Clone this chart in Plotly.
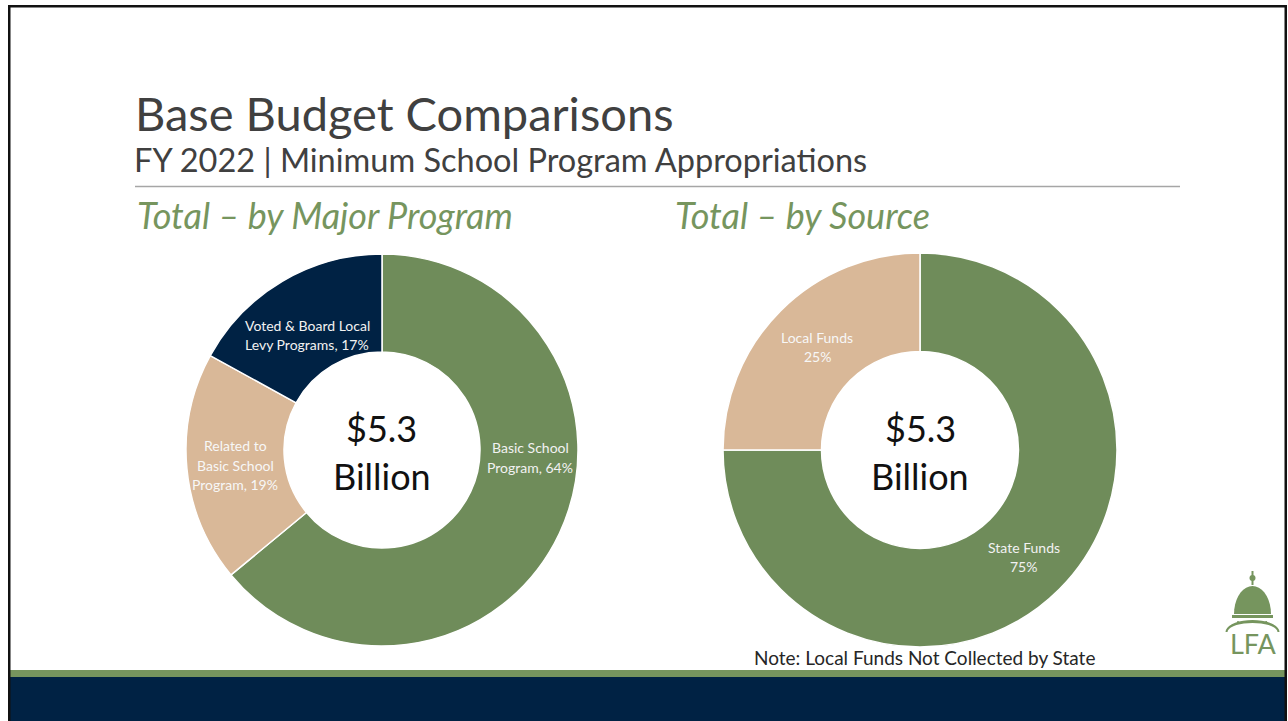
import math
import plotly.graph_objects as go

W, H = 1288, 721

program_labels = ["Basic School Program", "Related to Basic School Program", "Voted & Board Local Levy Programs"]
program_values = [64, 19, 17]
program_colors = ["#6F8C5A", "#D9B898", "#002244"]

source_labels = ["State Funds", "Local Funds"]
source_values = [75, 25]
source_colors = ["#6F8C5A", "#D9B898"]

center_amount = "$5.3"
center_unit = "Billion"

FONT = "Lato"

def px(x):
    return x / W

def py(y):
    return 1 - y / H

fig = go.Figure()

fig.add_trace(go.Pie(
    labels=program_labels, values=program_values, hole=0.5, sort=False,
    direction="clockwise", rotation=0,
    marker=dict(colors=program_colors, line=dict(color="white", width=1.5)),
    textinfo="none", hoverinfo="label+percent", showlegend=False,
    domain=dict(x=[px(186), px(578)], y=[py(646), py(254)]),
))
fig.add_trace(go.Pie(
    labels=source_labels, values=source_values, hole=0.5, sort=False,
    direction="clockwise", rotation=0,
    marker=dict(colors=source_colors, line=dict(color="white", width=1.5)),
    textinfo="none", hoverinfo="label+percent", showlegend=False,
    domain=dict(x=[px(723), px(1117)], y=[py(647), py(253)]),
))

ann = []
def add_text(x, y, text, size, color, **kw):
    d = dict(x=px(x), y=py(y), xref="paper", yref="paper", text=text, showarrow=False,
             font=dict(family=FONT, size=size, color=color), xanchor=kw.pop("xanchor", "center"),
             yanchor=kw.pop("yanchor", "middle"))
    d.update(kw)
    ann.append(d)

# Titles
add_text(133, 113, "Base Budget Comparisons", 47, "#404040", xanchor="left")
add_text(132, 159, "FY 2022 | Minimum School Program Appropriations", 32.5, "#404040", xanchor="left")
add_text(135, 215, "<i>Total – by Major Program</i>", 36, "#76955E", xanchor="left")
add_text(673, 215, "<i>Total – by Source</i>", 36, "#76955E", xanchor="left")

# Slice labels (one annotation per line)
def multi(x, y0, lines, color, step=19):
    for i, l in enumerate(lines):
        add_text(x, y0 + i * step, l, 14, color)

multi(307, 325, ["Voted & Board Local", f"Levy Programs, {program_values[2]}%"], "#F2F2F2")
multi(235, 446, ["Related to", "Basic School", f"Program, {program_values[1]}%"], "#F7F7F7")
multi(530, 448, ["Basic School", f"Program, {program_values[0]}%"], "#F2F2F2")
multi(817, 337, ["Local Funds", f"{source_values[1]}%"], "#F7F7F7")
multi(1024, 547, ["State Funds", f"{source_values[0]}%"], "#F2F2F2")

# Center texts
for cx in (382, 920):
    add_text(cx, 428, center_amount, 36, "#111111")
    add_text(cx, 476, center_unit, 36, "#111111")

add_text(925, 657, "Note: Local Funds Not Collected by State", 19, "#262626")
add_text(1253, 643, "LFA", 27, "#76955E")

shapes = []
def rect(x0, y0, x1, y1, color):
    shapes.append(dict(type="rect", xref="paper", yref="paper", x0=px(x0), x1=px(x1),
                       y0=py(y1), y1=py(y0), fillcolor=color, line=dict(width=0), layer="above"))

# divider
shapes.append(dict(type="line", xref="paper", yref="paper", x0=px(135), x1=px(1180),
                   y0=py(186.5), y1=py(186.5), line=dict(color="#A6A6A6", width=1.5)))
# bottom bars
rect(10, 670, 1285, 677, "#76955E")
rect(10, 677, 1285, 721, "#002244")

# border
rect(8, 5, 1287, 7.5, "#111111")
rect(8, 5, 10.5, 721, "#111111")
rect(1284.5, 5, 1287, 721, "#111111")

# logo dome
def path_pts(pts, close=True):
    s = "M " + " L ".join(f"{px(x)},{py(y)}" for x, y in pts)
    return s + (" Z" if close else "")

g = "#76955E"
rect(1251.5, 571, 1253.5, 585, g)
shapes.append(dict(type="circle", xref="paper", yref="paper", x0=px(1249.5), x1=px(1255.5),
                   y0=py(581), y1=py(575), fillcolor=g, line=dict(width=0)))
dome = [(1252.5 + 18.5 * math.cos(math.radians(a)), 614 - 28 * math.sin(math.radians(a))) for a in range(0, 181, 10)]
shapes.append(dict(type="path", xref="paper", yref="paper", path=path_pts(dome), fillcolor=g, line=dict(width=0)))
rect(1232, 615, 1273, 618, g)
arch_out = [(1252.5 + 27 * math.cos(math.radians(a)), 632 - 12 * math.sin(math.radians(a))) for a in range(0, 181, 10)]
arch_in = [(1252.5 + 25 * math.cos(math.radians(a)), 632 - 9 * math.sin(math.radians(a))) for a in range(180, -1, -10)]
shapes.append(dict(type="path", xref="paper", yref="paper", path=path_pts(arch_out + arch_in), fillcolor=g, line=dict(width=0)))
for i in range(7):
    x = 1238 + i * 4.7
    shapes.append(dict(type="circle", xref="paper", yref="paper", x0=px(x - 1), x1=px(x + 1),
                       y0=py(623), y1=py(621), fillcolor=g, line=dict(width=0)))

fig.update_layout(
    width=W, height=H, margin=dict(l=0, r=0, t=0, b=0),
    paper_bgcolor="white", plot_bgcolor="white",
    annotations=ann, shapes=shapes,
)

fig.write_html(
    "out.html",
    config={"displayModeBar": False},
    post_script="document.body.style.margin='0';document.body.style.overflow='hidden';",
)
